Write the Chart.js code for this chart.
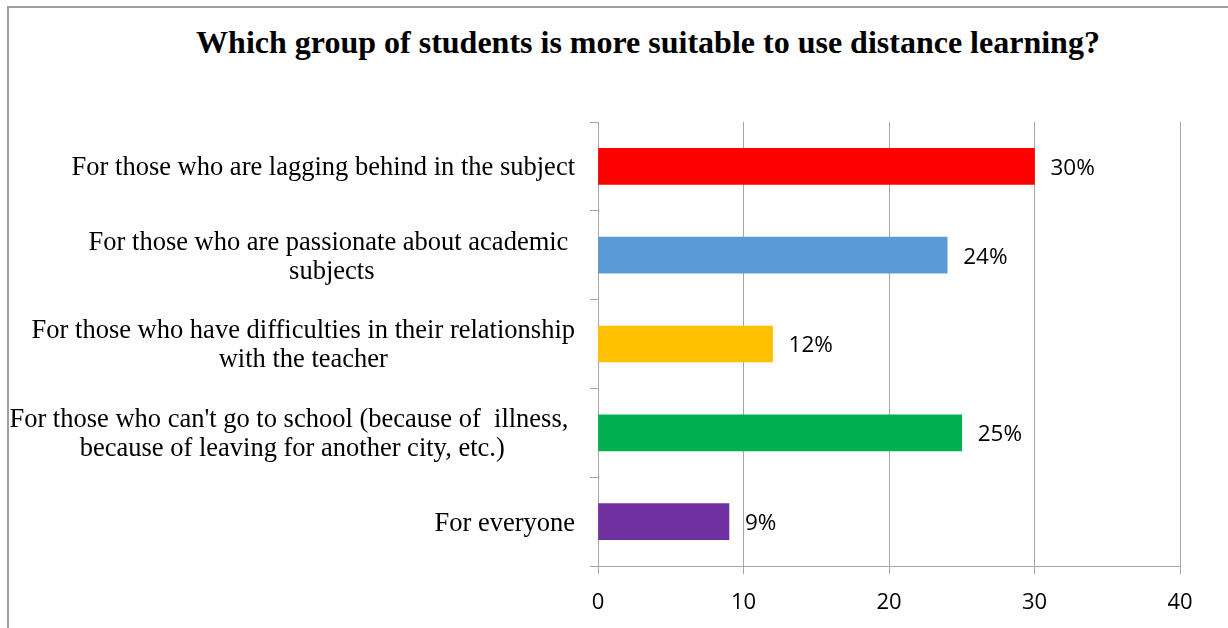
<!DOCTYPE html>
<html>
<head>
<meta charset="utf-8">
<script src="https://cdn.jsdelivr.net/npm/chart.js@4.4.0/dist/chart.umd.min.js"></script>
<style>
  html, body { margin: 0; padding: 0; background: #fff; overflow: hidden; }
  #frame {
    position: absolute; left: 7px; top: 6px; width: 1400px; height: 800px;
    border-left: 2px solid #a0a0a0; border-top: 2px solid #a0a0a0;
  }
  #title {
    position: absolute; left: 0; top: 23px; width: 1296px; text-align: center;
    font: bold 32px "Liberation Serif", "Times New Roman", serif; line-height: 38px; color: #000;
  }
  #wrap { position: absolute; left: 0; top: 0; width: 1228px; height: 628px; }
</style>
</head>
<body>
<div id="frame"></div>
<div id="title">Which group of students is more suitable to use distance learning?</div>
<div id="wrap"><canvas id="distance_learning"></canvas></div>
<script>
// answer groups (one array of text lines per bar)
const groups = [
  ['For those who are lagging behind in the subject'],
  ['For those who are passionate about academic ', 'subjects'],
  ['For those who have difficulties in their relationship', 'with the teacher'],
  ["For those who can't go to school (because of  illness, ", 'because of leaving for another city, etc.)'],
  ['For everyone']
];
const shares = [30, 24, 12, 25, 9];
const barColors = ['#FF0000', '#5B9BD5', '#FFC000', '#00B050', '#7030A0'];
const xTicks = [0, 10, 20, 30, 40];

const gridGray = '#a6a6a6';

// category labels: block is right aligned, lines centred inside the block
const groupLabels = {
  id: 'groupLabels',
  afterDraw(chart) {
    const ctx = chart.ctx;
    const yScale = chart.scales.y;
    ctx.save();
    ctx.font = '26.5px "Liberation Serif", "Times New Roman", serif';
    ctx.fillStyle = '#000';
    ctx.textAlign = 'center';
    ctx.textBaseline = 'middle';
    const right = 575, lineH = 29;
    groups.forEach((lines, i) => {
      const yc = yScale.getPixelForTick(i) + 2;
      const w = Math.max(...lines.map(l => ctx.measureText(l).width));
      lines.forEach((l, j) => {
        ctx.fillText(l, right - w / 2, yc + (j - (lines.length - 1) / 2) * lineH);
      });
    });
    ctx.restore();
  }
};

// percent labels at the end of each bar
const valueLabels = {
  id: 'valueLabels',
  afterDatasetsDraw(chart) {
    const ctx = chart.ctx;
    const meta = chart.getDatasetMeta(0);
    ctx.save();
    ctx.font = '22.5px "Open Sans", sans-serif';
    ctx.fillStyle = '#000';
    ctx.textAlign = 'left';
    ctx.textBaseline = 'middle';
    meta.data.forEach((bar, i) => {
      ctx.fillText(shares[i] + '%', bar.x + 16, bar.y + 2);
    });
    ctx.restore();
  }
};

const ctx = document.getElementById('distance_learning');
new Chart(ctx, {
  type: 'bar',
  data: {
    labels: groups,
    datasets: [{
      data: shares,
      backgroundColor: barColors,
      barThickness: 36
    }]
  },
  options: {
    indexAxis: 'y',
    responsive: true,
    maintainAspectRatio: false,
    animation: false,
    layout: { padding: { top: 122, right: 48, bottom: 0, left: 0 } },
    plugins: {
      legend: { display: false },
      tooltip: { enabled: false },
      title: { display: false }
    },
    scales: {
      x: {
        min: 0,
        max: 40,
        afterBuildTicks(scale) { scale.ticks = xTicks.map(v => ({ value: v })); },
        afterFit(scale) { scale.height = 62; },
        grid: { color: gridGray, tickLength: 8, lineWidth: 1 },
        border: { display: true, color: gridGray, width: 1 },
        ticks: {
          color: '#000',
          padding: 16,
          font: { family: '"Open Sans", sans-serif', size: 22 }
        }
      },
      y: {
        offset: true,
        afterFit(scale) { scale.width = 598; },
        grid: { offset: true, drawOnChartArea: false, color: gridGray, tickLength: 8 },
        border: { display: true, color: gridGray, width: 1 },
        ticks: { color: 'rgba(0,0,0,0)', font: { size: 10 } }
      }
    }
  },
  plugins: [groupLabels, valueLabels]
});
</script>
</body>
</html>
